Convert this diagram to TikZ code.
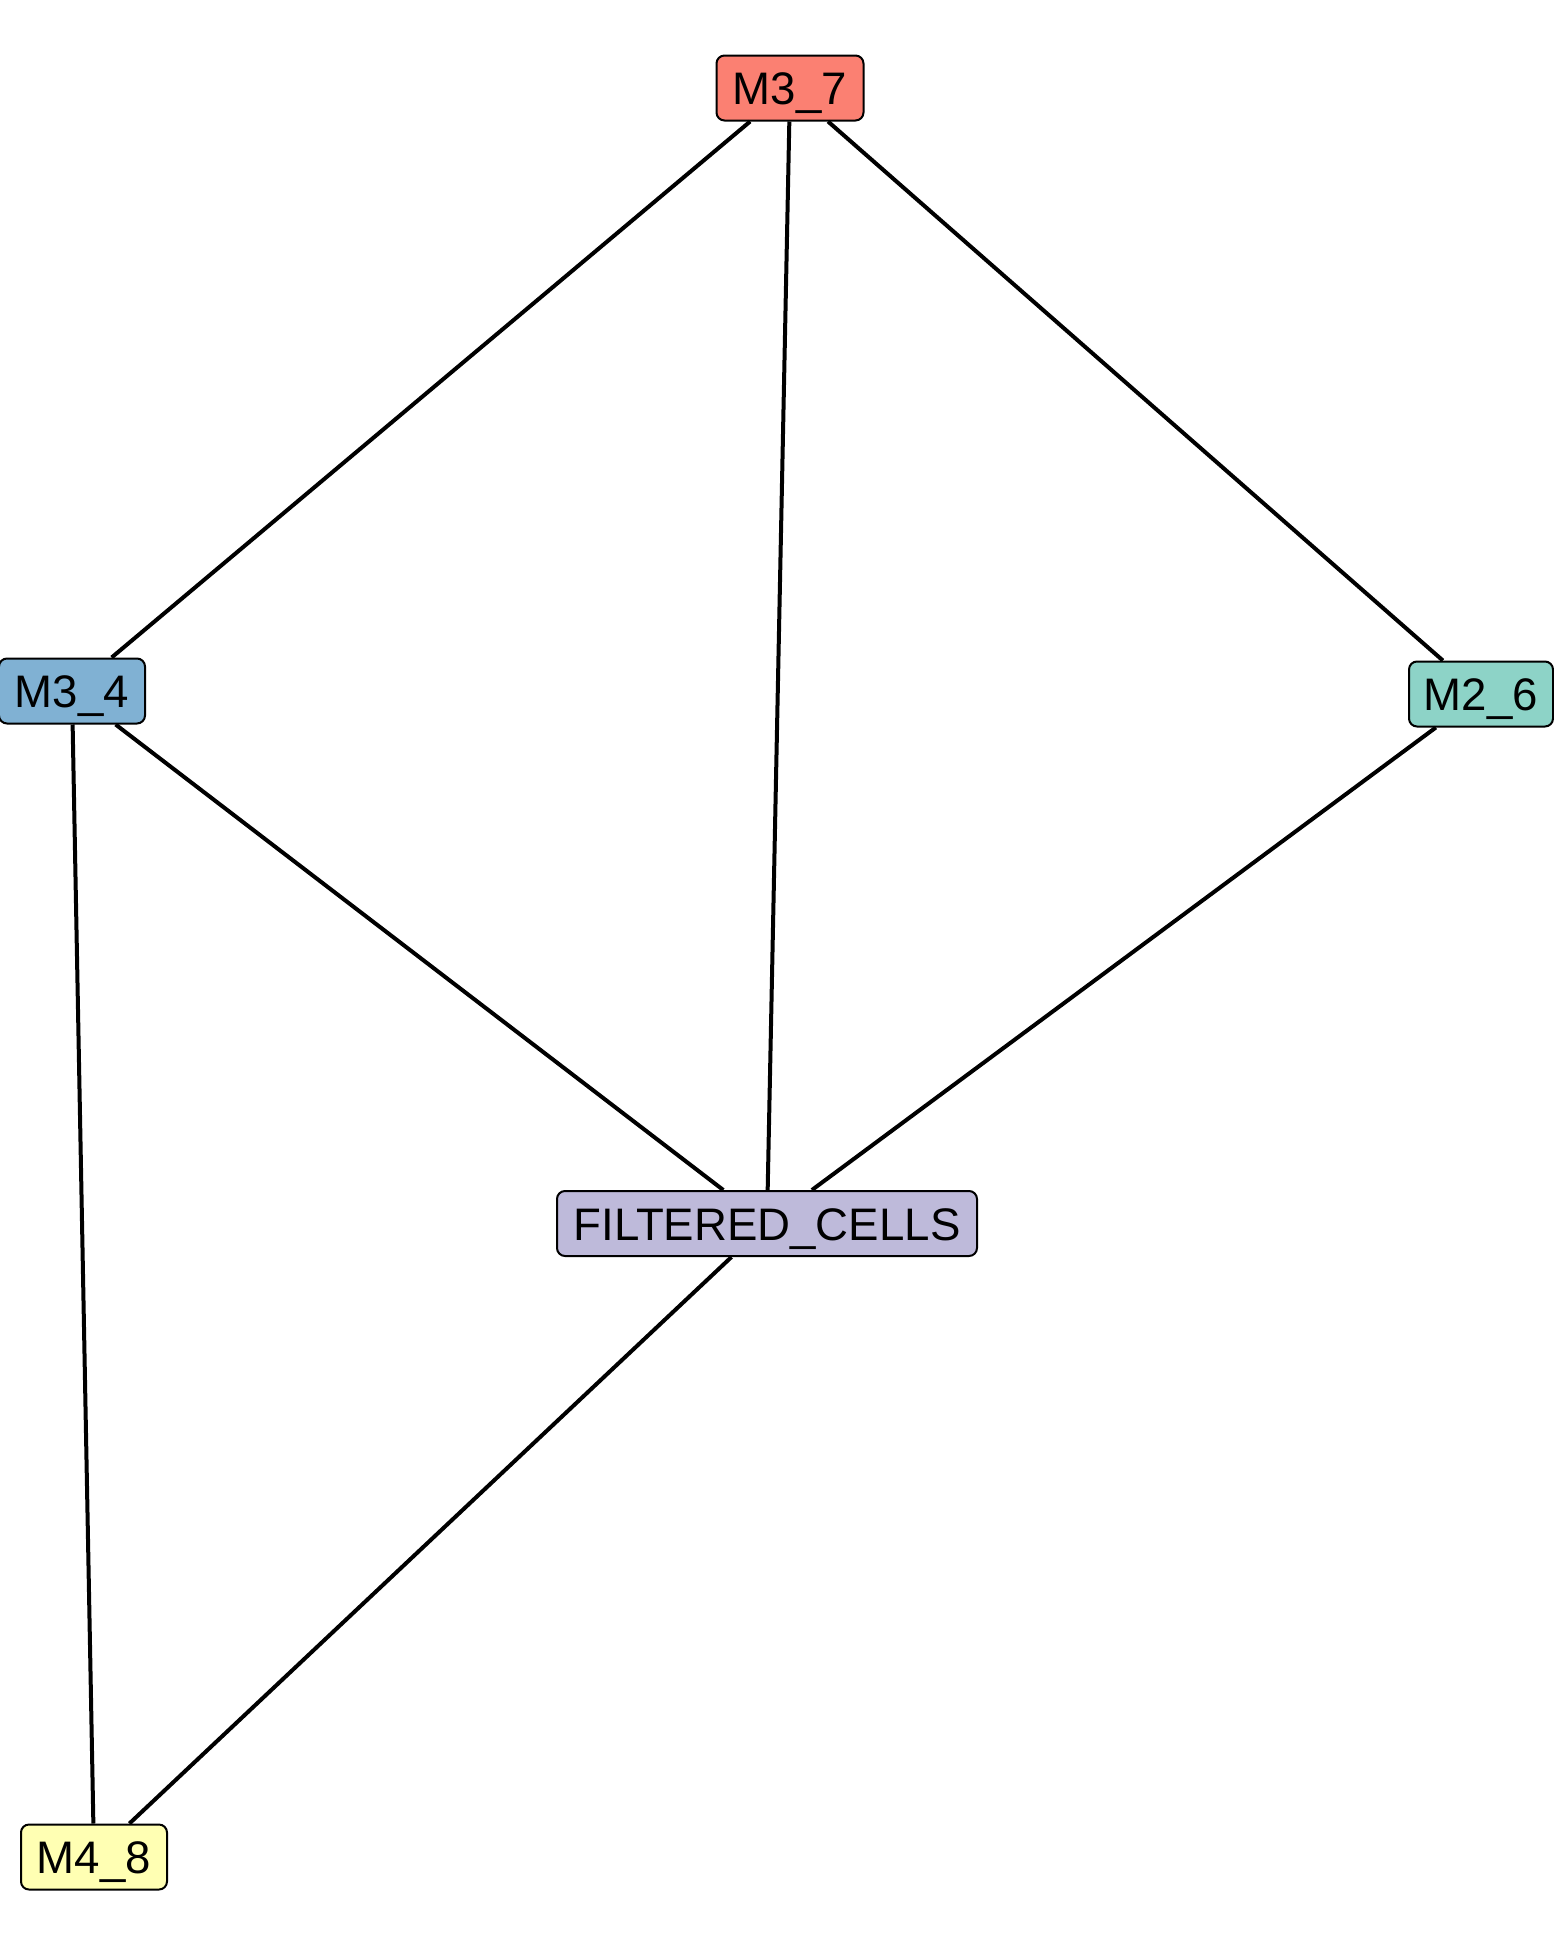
\documentclass[tikz,border=0pt]{standalone}
\usepackage{fontspec}
\setmainfont{Liberation Sans}
\definecolor{cA}{HTML}{FB8072}
\definecolor{cB}{HTML}{80B1D3}
\definecolor{cC}{HTML}{8DD3C7}
\definecolor{cD}{HTML}{BEBADA}
\definecolor{cE}{HTML}{FFFFB3}
\begin{document}
\begin{tikzpicture}[x=1pt,y=-1pt,
  nodebox/.style={draw=black, line width=2pt, rounded corners=8pt, inner sep=0pt,
    minimum height=65pt, text height=33pt, text depth=0pt,
    font=\fontsize{45.6}{54}\selectfont},
  edge/.style={line width=4pt, black}]
\useasboundingbox (0,0) rectangle (1553,1946);
\node[nodebox, fill=cA, minimum width=147pt] (m37) at (790,88) {M3\_7};
\node[nodebox, fill=cB, minimum width=146pt] (m34) at (72,691) {M3\_4};
\node[nodebox, fill=cC, minimum width=144pt] (m26) at (1481,694) {M2\_6};
\node[nodebox, fill=cD, minimum width=420pt] (fc) at (767,1223.5) {FILTERED\_CELLS};
\node[nodebox, fill=cE, minimum width=146pt] (m48) at (94,1857) {M4\_8};
\draw[edge] (m37) -- (m34);
\draw[edge] (m37) -- (m26);
\draw[edge] (m37) -- (fc);
\draw[edge] (m34) -- (fc);
\draw[edge] (m26) -- (fc);
\draw[edge] (m34) -- (m48);
\draw[edge] (fc) -- (m48);
\end{tikzpicture}
\end{document}
